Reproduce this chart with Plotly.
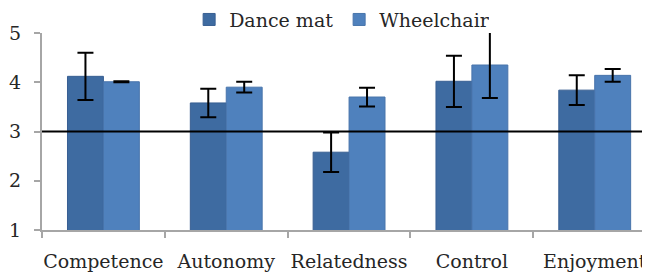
import plotly.graph_objects as go

categories = ["Competence", "Autonomy", "Relatedness", "Control", "Enjoyment"]
dance_mat = [4.12, 3.58, 2.58, 4.02, 3.84]
dance_mat_err = [0.48, 0.29, 0.40, 0.52, 0.30]
wheelchair = [4.01, 3.90, 3.70, 4.35, 4.14]
wheelchair_err = [0.01, 0.11, 0.19, 0.67, 0.13]
y_ticks = [1, 2, 3, 4, 5]
ref_value = 3

FONT = "DejaVu Serif"
err_style = dict(type="data", visible=True, color="black", thickness=2, width=8)

fig = go.Figure()
fig.add_trace(go.Bar(
    name="Dance mat", x=categories, y=dance_mat,
    error_y=dict(array=dance_mat_err, **err_style),
    marker=dict(color="#3E6BA1", line=dict(color="#385F92", width=1)),
))
fig.add_trace(go.Bar(
    name="Wheelchair", x=categories, y=wheelchair,
    error_y=dict(array=wheelchair_err, **err_style),
    marker=dict(color="#4F81BD", line=dict(color="#4874AB", width=1)),
))

fig.add_shape(type="line", xref="paper", x0=0, x1=1, yref="y", y0=ref_value, y1=ref_value,
              line=dict(color="black", width=2), layer="above")

# The page body has an 8px margin, so the figure is sized to fill the rest of the window.
fig.update_layout(
    width=642, height=267,
    margin=dict(l=34, r=0, t=25, b=45, autoexpand=False),
    paper_bgcolor="white", plot_bgcolor="white",
    barmode="group", bargap=0.415, bargroupgap=0,
    font=dict(family=FONT, size=19, color="#262626"),
    showlegend=True,
    legend=dict(orientation="h", x=0.242, xanchor="left", y=1.068, yanchor="middle",
                font=dict(family=FONT, size=19, color="#262626"),
                bgcolor="rgba(0,0,0,0)", itemwidth=30,
                entrywidth=105, entrywidthmode="pixels",
                traceorder="normal"),
    xaxis=dict(range=[-0.5, 4.45], showline=True, linecolor="#A6A6A6", linewidth=2,
               ticks="outside", tickson="boundaries", ticklen=6, tickcolor="#A6A6A6",
               tickwidth=2, showgrid=False, tickfont=dict(family=FONT, size=19),
               tickangle=0, automargin=False, ticklabelstandoff=13,
               fixedrange=True),
    yaxis=dict(range=[1, 5], tickvals=y_ticks, showline=True, linecolor="#A6A6A6",
               linewidth=2, ticks="outside", ticklen=6, tickcolor="#A6A6A6", tickwidth=2,
               showgrid=False, zeroline=False, tickfont=dict(family=FONT, size=19),
               automargin=False, ticklabelstandoff=9,
               fixedrange=True),
)

fig.write_html("out.html")
